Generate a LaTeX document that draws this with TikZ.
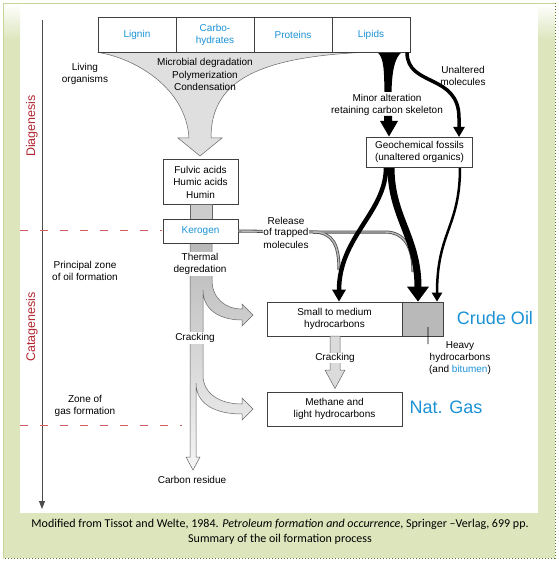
\documentclass[tikz,border=0pt]{standalone}
\usepackage{fontspec}
\setmainfont{Liberation Sans}
\newfontfamily\capfont{Carlito}
\usetikzlibrary{arrows.meta}
\definecolor{oilblue}{RGB}{28,146,214}
\definecolor{zonered}{RGB}{178,40,50}
\definecolor{dashred}{RGB}{210,95,95}
\definecolor{framegreen}{RGB}{220,229,188}
\definecolor{frameedge}{RGB}{196,214,150}
\definecolor{framedot}{RGB}{90,120,40}
\begin{document}
\begin{tikzpicture}[x=1pt,y=-1pt,
  lbl/.style={font=\fontsize{10}{12}\selectfont, align=center, inner sep=1pt},
  cell/.style={draw=black!75, line width=0.7pt, fill=white, minimum width=78pt, minimum height=35pt, inner sep=0pt, align=center, font=\fontsize{10}{12}\selectfont, text=oilblue},
  bx/.style={draw=black!75, line width=0.7pt, fill=white, inner sep=0pt, align=center, font=\fontsize{10}{12.5}\selectfont},
  big/.style={font=\fontsize{18}{20}\selectfont, text=oilblue, inner sep=0pt},
  zone/.style={font=\fontsize{12.5}{14}\selectfont, text=zonered, rotate=90, inner sep=0pt},
  grayshape/.style={draw=black!60, line width=0.5pt, fill=gray!28},
  blackflow/.style={draw=black, line cap=butt},
  reddash/.style={draw=dashred, line width=1pt, dash pattern=on 8pt off 12pt},
  release/.style={line width=3pt, draw=black!70},
  releasein/.style={line width=1.4pt, draw=gray!55},
  captxt/.style={font=\capfont\fontsize{12}{14}\selectfont, inner sep=0pt}
]
\useasboundingbox (0,0) rectangle (558,561);
% frame
\fill[white] (0,0) rectangle (558,561);
\fill[framegreen] (3,3) rectangle (555,558);
\fill[white] (20,3) rectangle (538,513);
\shade[top color=white, bottom color=framegreen] (3.5,3.5) rectangle (20,40);
\shade[top color=white, bottom color=framegreen] (538,3.5) rectangle (554.5,40);
\draw[frameedge, line width=0.8pt] (3,558) -- (3,3) -- (555,3);
\draw[framedot, line width=1pt, dotted] (555,3) -- (555,558) -- (3,558);

% axis
\coordinate (axtop) at (42,20);
\coordinate (axbot) at (42,509);
\draw[black!70, line width=0.8pt, -{Triangle[width=6pt,length=8pt]}] (axtop) -- (axbot);
\node[zone] (dia) at (32,126) {Diagenesis};
\node[zone] (cata) at (32,327) {Catagenesis};

% top cells
\node[cell] (lignin) at (137,34.5) {Lignin};
\node[cell] (carbo) at (215,34.5) {Carbo-\\hydrates};
\node[cell] (proteins) at (293,34.5) {Proteins};
\node[cell] (lipids) at (371,34.5) {Lipids};

% gray funnel
\path[grayshape, fill=gray!25] (lignin.south west) .. controls (135,58) and (186,88) .. (189,138) -- (178,138) -- (200,156) -- (222,138) -- (211,138) .. controls (211,85) and (250,56) .. (373,52) -- cycle;
% black lipid funnel
\fill[black] (377,52) .. controls (384,57) and (384,70) .. (384.5,92) -- (391.5,92) .. controls (392,70) and (395,57) .. (402,52) -- cycle;
% redraw cells on top
\node[cell] at (lignin) {Lignin};
\node[cell] at (carbo) {Carbo-\\hydrates};
\node[cell] at (proteins) {Proteins};
\node[cell] at (lipids) {Lipids};

\node[lbl] (living) at (85,73.5) {Living\\organisms};
\node[lbl, font=\fontsize{10}{12.5}\selectfont] (microbial) at (205,74.5) {Microbial degradation\\Polymerization\\Condensation};
\node[lbl] (minor) at (387,104.5) {Minor alteration\\retaining carbon skeleton};
\node[lbl] (unalt) at (463,76) {Unaltered\\molecules};

% boxes
\node[bx, minimum width=75pt, minimum height=45pt] (fulvic) at (200.5,182) {Fulvic acids\\Humic acids\\Humin};
\node[bx, minimum width=75pt, minimum height=24pt, text=oilblue] (kerogen) at (200.5,231) {Kerogen};
\node[bx, minimum width=106pt, minimum height=30pt] (geo) at (419.5,152) {Geochemical fossils\\(unaltered organics)};
\node[bx, minimum width=135pt, minimum height=34pt] (small) at (334.5,319) {Small to medium\\hydrocarbons};
\node[bx, minimum width=41pt, minimum height=34pt, fill=gray!55] (heavy) at (422.5,319) {};
\node[bx, minimum width=135pt, minimum height=34pt] (methane) at (334.5,409) {Methane and\\light hydrocarbons};

% lipid arrow below text
\fill[black] (384,116) -- (392,116) -- (392,121) -- (398,121) -- (389,136.5) -- (380,121) -- (384,121) -- cycle;
% unaltered molecules arrow
\draw[blackflow, line width=3.5pt, -{Triangle[width=11pt,length=10pt]}] ([xshift=36pt]lipids.south) .. controls +(0,35) and +(0,-45) .. (459,118) -- (459,137);

% gray column
\path[draw=black!60, line width=0.5pt, fill=gray!40] (190,204) rectangle (212,219);
\path[draw=black!60, line width=0.5pt, top color=gray!55, bottom color=gray!8]
  (190,243) -- (190,457) -- (186,457) -- (193,470) -- (200,457) -- (196,457) -- (196,383)
  .. controls (196,404) and (215,414) .. (242,414) -- (242,420) -- (253,409) -- (242,398) -- (242,404)
  .. controls (220,404) and (203,394) .. (203,375) -- (203,290)
  .. controls (203,310) and (220,320) .. (242,320) -- (242,326) -- (253,315) -- (242,304) -- (242,309)
  .. controls (225,309) and (212,298) .. (212,280) -- (212,243) -- cycle;
\node[bx, minimum width=75pt, minimum height=24pt, text=oilblue] at (kerogen) {Kerogen};
\node[lbl, fill=white] (thermal) at (200,264) {Thermal\\degredation};
\node[lbl, fill=white] (crack1) at (195,338) {Cracking};
\node[lbl] (carbres) at (192,480) {Carbon residue};

% release of trapped molecules
\coordinate (split) at (313,232);
\draw[release] (kerogen.east) -- (split) .. controls (333,232) and (339,245) .. (339,270);
\draw[release] (split) -- (385,232) .. controls (405,232) and (413,248) .. (413,272);
\draw[releasein] (kerogen.east) -- (split) .. controls (333,232) and (339,245) .. (339,270);
\draw[releasein] (split) -- (385,232) .. controls (405,232) and (413,248) .. (413,272);
\node[lbl, font=\fontsize{10}{11}\selectfont] (release) at (286,233) {Release\\\colorbox{white}{\hspace*{-3pt}of trapped\hspace*{-3pt}}\\molecules};

% black flows from geochemical fossils
\draw[blackflow, line width=4.5pt, -{Triangle[width=13pt,length=12pt]}] ([xshift=-33.5pt]geo.south) .. controls +(0,45) and +(0,-65) .. ([xshift=4.5pt]small.north);
\draw[blackflow, line width=7pt, -{Triangle[width=21pt,length=15pt]}] ([xshift=-28.5pt]geo.south) .. controls +(0,50) and +(0,-65) .. ([xshift=-4.5pt]heavy.north);
\draw[blackflow, line width=2.5pt, -{Triangle[width=10pt,length=9pt]}] ([xshift=40.5pt]geo.south) .. controls +(0,60) and +(0,-70) .. ([xshift=14.5pt]heavy.north);
\node[bx, minimum width=106pt, minimum height=30pt] at (geo) {Geochemical fossils\\(unaltered organics)};

% cracking arrow between boxes
\path[grayshape] (330,336) -- (330,370) -- (325,370) -- (335,388.5) -- (345,370) -- (340,370) -- (340,336) -- cycle;
\node[lbl, fill=white, inner sep=0.5pt] (crack2) at (335,358) {Cracking};

% heavy hydrocarbons
\node[lbl] (heavylbl) at (460,358) {Heavy\\hydrocarbons\\(and \textcolor{oilblue}{bitumen})};
\draw[black, line width=0.6pt] ([shift={(5.5,8)}]heavy.center) -- (heavylbl.north west |- 0,344);

\node[big] (crude) at (495,318) {Crude Oil};
\node[big] (natgas) at (446,407) {Nat. Gas};

% left labels
\node[lbl] (principal) at (85,270.5) {Principal zone\\of oil formation};
\node[lbl] (gaszone) at (85,405.5) {Zone of\\gas formation};
\coordinate (d1a) at (20,230.5);
\coordinate (d1b) at (162,230.5);
\coordinate (d2a) at (20,425.5);
\coordinate (d2b) at (182,425.5);
\draw[reddash] (d1a) -- (d1b);
\draw[reddash] (d2a) -- (d2b);

% caption
\node[captxt] (cap1) at (280,524) {Modified from Tissot and Welte, 1984. \textit{Petroleum formation and occurrence}, Springer –Verlag, 699 pp.};
\node[captxt] (cap2) at (280,539) {Summary of the oil formation process};
\end{tikzpicture}
\end{document}
